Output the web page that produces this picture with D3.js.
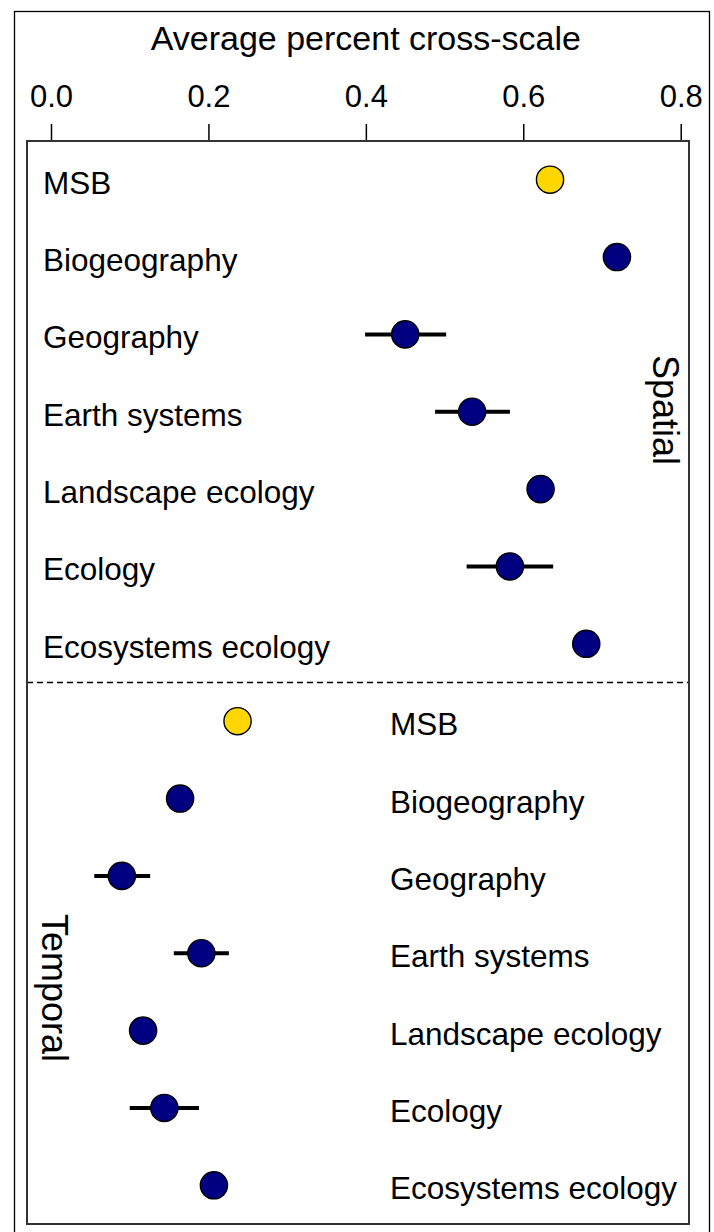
<!DOCTYPE html>
<html>
<head>
<meta charset="utf-8">
<script src="https://cdn.jsdelivr.net/npm/d3@7"></script>
<style>
  html, body { margin: 0; padding: 0; background: #fff; }
  svg { display: block; font-family: "Liberation Sans", Arial, Helvetica, sans-serif; }
</style>
</head>
<body>
<svg id="chart" width="714" height="1232"></svg>
<script>
// Disciplines, listed top to bottom within each panel
const categories = ["MSB", "Biogeography", "Geography", "Earth systems",
                    "Landscape ecology", "Ecology", "Ecosystems ecology"];

// Spatial: mean share of cross-scale work, with interval ends (null = no bar)
const spatialMean = [0.634, 0.719, 0.450, 0.535, 0.622, 0.583, 0.680];
const spatialLow  = [null,  null,  0.399, 0.488, null,  0.528, null];
const spatialHigh = [null,  null,  0.502, 0.583, null,  0.638, null];

// Temporal: mean share of cross-scale work, with interval ends (null = no bar)
const temporalMean = [0.237, 0.164, 0.090, 0.191, 0.117, 0.144, 0.207];
const temporalLow  = [null,  null,  0.055, 0.156, null,  0.100, null];
const temporalHigh = [null,  null,  0.126, 0.226, null,  0.188, null];

const xTicks = [0, 0.2, 0.4, 0.6, 0.8];
const axisTitle = "Average percent cross-scale";
const panelNames = ["Spatial", "Temporal"];

const svg = d3.select("#chart");
const W = 714, H = 1232;

// plot frame
const box = { left: 27, right: 689, top: 141, bottom: 1224 };

const x = d3.scaleLinear().domain([0, 0.8]).range([51, 680.7]);

// one row per discipline per panel
const rows = [];
categories.forEach((c, i) => rows.push({
  key: "s" + i, panel: 0, label: c, mean: spatialMean[i],
  lo: spatialLow[i], hi: spatialHigh[i], msb: c === "MSB" }));
categories.forEach((c, i) => rows.push({
  key: "t" + i, panel: 1, label: c, mean: temporalMean[i],
  lo: temporalLow[i], hi: temporalHigh[i], msb: c === "MSB" }));

const y = d3.scalePoint()
  .domain(rows.map(d => d.key))
  .range([box.top, box.bottom])
  .padding(0.5);

// outer figure border
svg.append("rect")
  .attr("x", 14.5).attr("y", 11.5)
  .attr("width", 709.5 - 14.5).attr("height", H + 10)
  .attr("fill", "none").attr("stroke", "#000").attr("stroke-width", 1.3);

// axis title
svg.append("text")
  .attr("x", x(0.4)).attr("y", 50)
  .attr("text-anchor", "middle")
  .attr("font-size", 34)
  .attr("fill", "#000")
  .text(axisTitle);

// top axis
const axis = d3.axisTop(x)
  .tickValues(xTicks)
  .tickFormat(d3.format(".1f"))
  .tickSize(17)
  .tickPadding(17);
const gAxis = svg.append("g")
  .attr("transform", `translate(0,${box.top})`)
  .call(axis);
gAxis.select(".domain").remove();
gAxis.selectAll(".tick line").attr("stroke", "#000").attr("stroke-width", 1.5);
gAxis.selectAll(".tick text")
  .attr("font-size", 31)
  .attr("font-family", "Liberation Sans, Arial, sans-serif")
  .attr("fill", "#000");

// divider between the two panels
const divY = (y("s6") + y("t0")) / 2;
svg.append("line")
  .attr("x1", box.left).attr("x2", box.right)
  .attr("y1", divY).attr("y2", divY)
  .attr("stroke", "#000").attr("stroke-width", 1.5)
  .attr("stroke-dasharray", "6,4");

// row labels: left side for spatial, right-middle for temporal
svg.append("g").selectAll("text")
  .data(rows)
  .join("text")
  .attr("x", d => d.panel === 0 ? 43 : 390)
  .attr("y", d => y(d.key) + 14)
  .attr("font-size", 31.5)
  .attr("fill", "#000")
  .text(d => d.label);

// interval bars
svg.append("g").selectAll("line")
  .data(rows.filter(d => d.lo !== null))
  .join("line")
  .attr("x1", d => x(d.lo)).attr("x2", d => x(d.hi))
  .attr("y1", d => y(d.key)).attr("y2", d => y(d.key))
  .attr("stroke", "#000").attr("stroke-width", 4);

// means
svg.append("g").selectAll("circle")
  .data(rows)
  .join("circle")
  .attr("cx", d => x(d.mean))
  .attr("cy", d => y(d.key))
  .attr("r", 13.6)
  .attr("fill", d => d.msb ? "#FFD700" : "#000080")
  .attr("stroke", "#000")
  .attr("stroke-width", 1.4);

// panel names, rotated
svg.append("text")
  .attr("transform", `translate(653,410) rotate(90)`)
  .attr("text-anchor", "middle")
  .attr("font-size", 36)
  .attr("fill", "#000")
  .text(panelNames[0]);
svg.append("text")
  .attr("transform", `translate(42,988) rotate(90)`)
  .attr("text-anchor", "middle")
  .attr("font-size", 36)
  .attr("fill", "#000")
  .text(panelNames[1]);

// plot frame on top
svg.append("rect")
  .attr("x", box.left).attr("y", box.top)
  .attr("width", box.right - box.left).attr("height", box.bottom - box.top)
  .attr("fill", "none").attr("stroke", "#333").attr("stroke-width", 2);
</script>
</body>
</html>
